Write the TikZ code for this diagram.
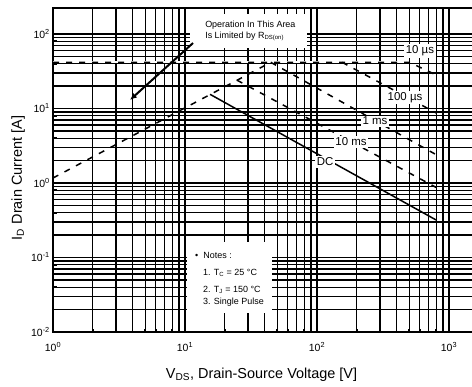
\documentclass[tikz,border=0pt]{standalone}
\usepackage{fontspec}
\setmainfont{Liberation Sans}
\usetikzlibrary{arrows.meta}
\begin{document}
\begin{tikzpicture}
[x=132bp, y=74.5bp,
 gridline/.style={line width=1.2bp},
 soa/.style={line width=1.5bp},
 soadash/.style={soa, dash pattern=on 6bp off 7bp},
 curvelabel/.style={fill=white, inner sep=1.5bp, font=\fontsize{11.5}{12}\selectfont},
 decade/.style={font=\fontsize{10.5}{12}\selectfont, inner sep=1bp},
 notes/.style={anchor=west, inner sep=0pt, font=\fontsize{9}{11}\selectfont}]
\useasboundingbox (-53bp,-204bp) rectangle (419bp,183bp);
\clip (-53bp,-204bp) rectangle (419bp,183bp);
% log grid
\foreach \k in {0,1,2}
  \foreach \n in {1,...,9}
    \draw [gridline] ({\k+ln(\n)/ln(10)},-2) -- ({\k+ln(\n)/ln(10)},2.35);
\draw [gridline] (3,-2) -- (3,2.35);
\foreach \k in {-2,-1,0,1}
  \foreach \n in {1,...,9}
    \draw [gridline] (0,{\k+ln(\n)/ln(10)}) -- (3.4,{\k+ln(\n)/ln(10)});
\draw [gridline] (0,2) -- (3.4,2);
% minor ticks
\foreach \k in {-2,-1,0,1}
  \foreach \n in {2,...,9}
    \draw [line width=1.8bp] (0,{\k+ln(\n)/ln(10)}) -- ++(4bp,0);
\foreach \k in {0,1,2}
  \foreach \n in {2,...,9}
    \draw [line width=1.8bp] ({\k+ln(\n)/ln(10)},-2) -- ++(0,3bp);
% white areas behind the notes
\fill [white] (1.038,1.812) rectangle (1.924,2.268);
\fill [white] (1.015,-1.745) rectangle (1.659,-0.792);
% frame
\draw [line width=2.2bp] (3.4,2.349) -- (0,2.349) -- (0,-2) -- (3.4,-2);
% decade labels
\foreach \k [count=\i] in {-2,...,2}
  \node [decade, anchor=east, xshift=-2bp] (ydec\i) at (0,\k) {10\textsuperscript{\k}};
\foreach \k [count=\i] in {0,...,3}
  \node [decade, anchor=north, yshift=-9bp] (xdec\i) at (\k,-2) {10\textsuperscript{\k}};
% axis titles
\node [rotate=90, font=\fontsize{14.5}{18}\selectfont] (ytitle) at (-0.265,0.067) {I\textsubscript{D} Drain Current [A]};
\node [font=\fontsize{14.5}{18}\selectfont] (xtitle) at (1.58,-2.577) {V\textsubscript{DS}, Drain-Source Voltage [V]};
% limit curves
\draw [white, line width=1.9bp] (0,1.62) -- (2.70,1.62);
\draw [soadash] (0,0.067) -- (1.65,1.62);
\draw [soadash] (0,1.62) -- (2.70,1.62) -- (2.903,1.45);
\draw [soadash] (2.19,1.62) -- (2.903,0.94);
\draw [soadash] (1.65,1.62) -- (2.903,0.38);
\draw [soadash] (1.394,1.38) -- (2.903,-0.06);
\draw [soa] (1.19,1.19) -- (2.903,-0.497);
\node [curvelabel] (us10) at (2.78,1.772) {10 µs};
\node [curvelabel] (us100) at (2.667,1.148) {100 µs};
\node [curvelabel] (ms1) at (2.439,0.832) {1 ms};
\node [curvelabel] (ms10) at (2.258,0.550) {10 ms};
\node [curvelabel] (dc) at (2.061,0.282) {DC};
% R_DS(on) note
\node [align=left, anchor=north west, inner sep=0pt, font=\fontsize{9}{11}\selectfont] (rdsnote) at (1.152,2.174) {Operation In This Area\\Is Limited by R\textsubscript{DS(on)}};
\coordinate (rdsfrom) at (1.061,1.879);
\coordinate (rdsto) at (0.583,1.114);
\draw [line width=2bp, -{Latex[length=7bp,width=6bp]}] (rdsfrom) -- (rdsto);
% notes
\node [notes] (note0) at (1.076,-0.966) {\textbullet\ \ Notes :};
\node [notes] (note1) at (1.136,-1.201) {1. T\textsubscript{C} = 25 °C};
\node [notes] (note2) at (1.136,-1.436) {2. T\textsubscript{J} = 150 °C};
\node [notes] (note3) at (1.136,-1.604) {3. Single Pulse};
\end{tikzpicture}
\end{document}
